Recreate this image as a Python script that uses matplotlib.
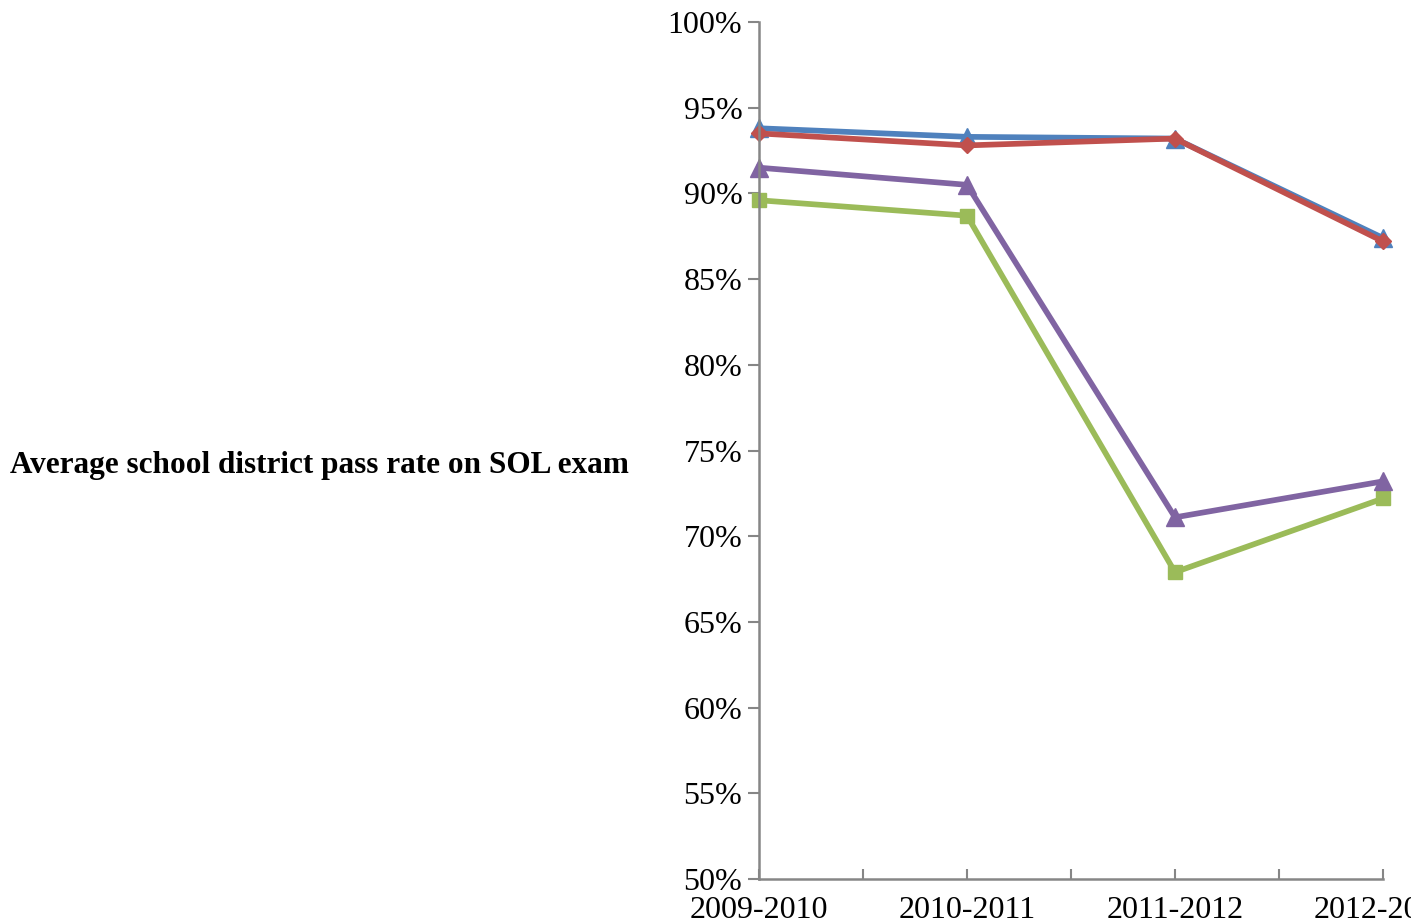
import matplotlib
matplotlib.use('Agg')
import matplotlib.pyplot as plt
import matplotlib.ticker as tic

plt.rcParams['font.family'] = ['Liberation Serif', 'DejaVu Serif']

years = ['2009-2010', '2010-2011', '2011-2012', '2012-2013']
blue = [93.8, 93.3, 93.2, 87.4]
red = [93.5, 92.8, 93.2, 87.2]
green = [89.6, 88.7, 67.9, 72.2]
purple = [91.5, 90.5, 71.1, 73.2]
yticks = list(range(50, 101, 5))

fig = plt.figure(figsize=(14.11, 9.23), dpi=100)
ax = fig.add_axes([759/1411, 1-879/923, (1383-759)/1411, (879-22)/923])

x = range(len(years))
ax.plot(x, blue, color='#4F81BD', lw=4.1, marker='^', ms=13, clip_on=False)
ax.plot(x, red, color='#C0504D', lw=4.1, marker='D', ms=8, clip_on=False)
ax.plot(x, green, color='#9BBB59', lw=4.1, marker='s', ms=10, clip_on=False)
ax.plot(x, purple, color='#8064A2', lw=4.1, marker='^', ms=13, clip_on=False)

ax.set_xlim(0, 3)
ax.set_ylim(50, 100)
ax.set_yticks(yticks)
ax.set_yticklabels(['{}%'.format(v) for v in yticks])
ax.set_xticks(list(x))
ax.set_xticklabels(years)
ax.xaxis.set_minor_locator(tic.FixedLocator([0.5, 1.5, 2.5]))
ax.tick_params(axis='y', direction='out', length=8, width=1.5, color='#868686', labelsize=23, pad=4)
ax.tick_params(axis='x', which='both', direction='in', length=7, width=1.5, color='#868686', labelsize=23, pad=12)
for s in ['top', 'right']:
    ax.spines[s].set_visible(False)
for s in ['left', 'bottom']:
    ax.spines[s].set_color('#868686')
    ax.spines[s].set_linewidth(1.8)

fig.text(10/1411, 1-465/923, 'Average school district pass rate on SOL exam',
         ha='left', va='center', fontsize=22.5, fontweight='bold')

fig.savefig('out.png', dpi=100)
